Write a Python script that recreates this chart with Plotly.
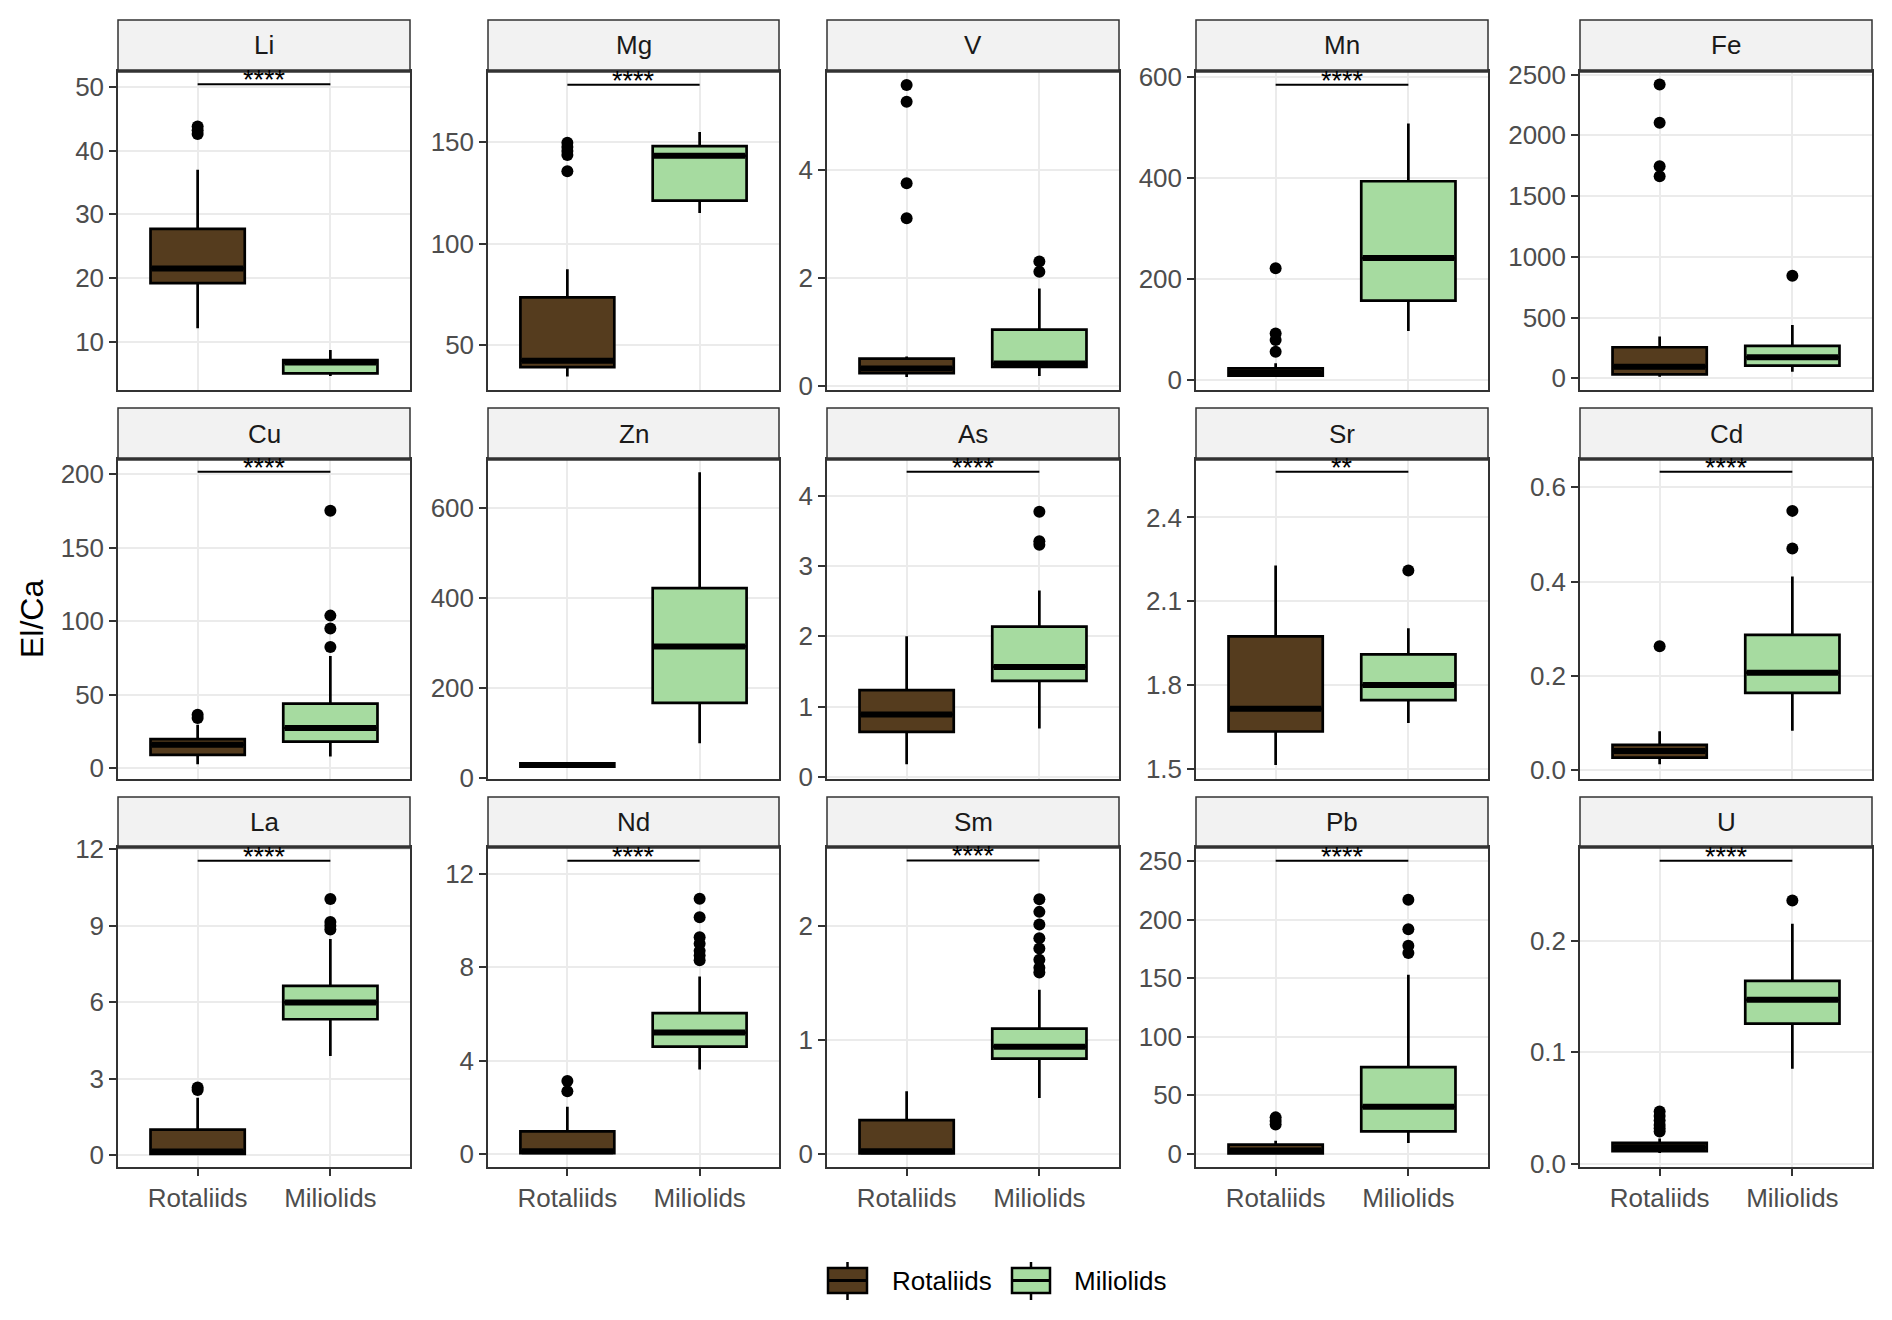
import plotly.graph_objects as go

# page is 1892x1320; the html body adds an 8px margin around the plot div
OFF = 8
W, H = 1892 - 2 * OFF, 1320 - 2 * OFF

elements = ["Li", "Mg", "V", "Mn", "Fe",
            "Cu", "Zn", "As", "Sr", "Cd",
            "La", "Nd", "Sm", "Pb", "U"]
groups = ["Rotaliids", "Miliolids"]
fills = {"Rotaliids": "#553C1E", "Miliolids": "#A6DBA0"}

# box statistics per element: [Rotaliids, Miliolids]
lower_whisker = [[12.1, 4.6], [34.6, 115.0], [0.17, 0.19], [6.6, 97], [14, 55],
                 [2.5, 7.8], [24, 78], [0.18, 0.687], [1.514, 1.664], [0.013, 0.084],
                 [0.01, 3.89], [0.0, 3.62], [0.0, 0.49], [0.0, 9.1], [0.0099, 0.0853]]
q1 = [[19.2, 5.0], [39.2, 121.1], [0.24, 0.36], [8.6, 157], [33, 105],
      [8.9, 18.0], [26, 167.7], [0.64, 1.364], [1.634, 1.746], [0.027, 0.164],
      [0.04, 5.33], [0.03, 4.6], [0.006, 0.835], [0.3, 19.1], [0.0114, 0.1257]]
median = [[21.5, 6.7], [42.4, 143.1], [0.33, 0.42], [14.5, 241], [96, 173],
          [15.8, 27.2], [29.5, 293], [0.887, 1.564], [1.715, 1.80], [0.041, 0.207],
          [0.14, 5.99], [0.11, 5.2], [0.023, 0.94], [2.6, 40], [0.015, 0.147]]
q3 = [[27.7, 7.1], [73.5, 147.9], [0.51, 1.05], [23, 393], [256, 267],
      [19.6, 43.8], [33, 422.6], [1.235, 2.136], [1.974, 1.910], [0.054, 0.287],
      [1.0, 6.64], [0.97, 6.03], [0.296, 1.098], [7.7, 74], [0.0189, 0.164]]
upper_whisker = [[37.0, 8.7], [87.4, 154.8], [0.55, 1.81], [33, 507], [344, 440],
                 [29.5, 76.3], [36, 680], [2.0, 2.65], [2.228, 2.003], [0.083, 0.411],
                 [2.25, 8.48], [2.02, 7.6], [0.55, 1.438], [11.1, 152.9], [0.0228, 0.215]]

outliers_rotaliids = [
    [43.8, 43.2, 42.6], [149.5, 147.5, 145.5, 143.5, 135.5], [5.58, 5.27, 3.76, 3.11],
    [221, 92, 79, 56], [2418, 2104, 1746, 1664],
    [36.3, 34], [], [], [], [0.263],
    [2.65, 2.55], [3.12, 2.69], [], [31, 28, 25], [0.047, 0.043, 0.039, 0.035, 0.032, 0.029],
]
outliers_miliolids = [
    [], [], [2.31, 2.12], [], [844],
    [175, 103.7, 95, 82.4], [], [3.77, 3.35, 3.30], [2.21], [0.550, 0.470],
    [10.05, 9.15, 9.0, 8.85], [10.93, 10.14, 9.28, 9.0, 8.7, 8.5, 8.3],
    [2.23, 2.12, 2.01, 1.89, 1.80, 1.70, 1.63, 1.59], [217, 191.7, 177.7, 171.4], [0.236],
]

signif = ["****", "****", "", "****", "",
          "****", "", "****", "**", "****",
          "****", "****", "****", "****", "****"]
bracket_y = [50.4, 178, None, 584, None,
             201.6, None, 4.34, 2.563, 0.633,
             11.55, 12.56, 2.57, 250.3, 0.2716]

y_limits = [[2.4, 52.5], [28, 184.8], [-0.07, 5.84], [-19.8, 611], [-96, 2530],
            [-7.5, 210.3], [-1.5, 709.6], [-0.03, 4.52], [1.464, 2.609], [-0.0185, 0.660],
            [-0.47, 12.09], [-0.56, 13.15], [-0.114, 2.688], [-11.4, 262], [-0.0027, 0.2838]]
y_ticks = [[10, 20, 30, 40, 50], [50, 100, 150], [0, 2, 4], [0, 200, 400, 600],
           [0, 500, 1000, 1500, 2000, 2500],
           [0, 50, 100, 150, 200], [0, 200, 400, 600], [0, 1, 2, 3, 4],
           [1.5, 1.8, 2.1, 2.4], [0.0, 0.2, 0.4, 0.6],
           [0, 3, 6, 9, 12], [0, 4, 8, 12], [0, 1, 2], [0, 50, 100, 150, 200, 250],
           [0.0, 0.1, 0.2]]
y_tick_labels = [[str(v) for v in t] for t in y_ticks]
y_tick_labels[8] = ["1.5", "1.8", "2.1", "2.4"]
y_tick_labels[9] = ["0.0", "0.2", "0.4", "0.6"]
y_tick_labels[14] = ["0.0", "0.1", "0.2"]

# panel geometry in pixels of the 1892x1320 page
col_px = [(118, 410), (488, 779), (827, 1119), (1196, 1488), (1580, 1872)]
row_px = [(71, 390), (459, 779), (847, 1167)]
strip_px = [(20, 71), (408, 459), (797, 847)]

FONT = "Liberation Sans, Arial, sans-serif"
BOX_HALF = 0.355


def fx(x):
    return (x - OFF) / W


def fy(y):
    return 1 - (y - OFF) / H


fig = go.Figure()
shapes = []
annotations = []
layout = {}

for k, el in enumerate(elements):
    r, c = divmod(k, 5)
    sfx = "" if k == 0 else str(k + 1)
    xa, ya = "x" + sfx, "y" + sfx

    for j, g in enumerate(groups):
        fig.add_trace(go.Box(
            x=[g], q1=[q1[k][j]], median=[median[k][j]], q3=[q3[k][j]],
            lowerfence=[lower_whisker[k][j]], upperfence=[upper_whisker[k][j]],
            fillcolor=fills[g], line=dict(color="black", width=2.7),
            whiskerwidth=0, width=2 * BOX_HALF, boxpoints=False,
            hoverinfo="skip", showlegend=False, xaxis=xa, yaxis=ya,
        ))
        # thicker median bar as in ggplot
        shapes.append(dict(type="line", xref=xa, yref=ya,
                           x0=j - BOX_HALF + 0.01, x1=j + BOX_HALF - 0.01,
                           y0=median[k][j], y1=median[k][j],
                           line=dict(color="black", width=6)))
        outs = outliers_rotaliids[k] if j == 0 else outliers_miliolids[k]
        if outs:
            fig.add_trace(go.Scatter(
                x=[g] * len(outs), y=outs, mode="markers",
                marker=dict(color="black", size=12),
                hoverinfo="skip", showlegend=False, xaxis=xa, yaxis=ya,
            ))

    if bracket_y[k] is not None:
        shapes.append(dict(type="line", xref=xa, yref=ya, x0=0, x1=1,
                           y0=bracket_y[k], y1=bracket_y[k],
                           line=dict(color="black", width=2)))
        annotations.append(dict(text=signif[k], xref=xa, yref=ya, x=0.5, y=bracket_y[k],
                                yanchor="bottom", yshift=-13, showarrow=False,
                                font=dict(family=FONT, size=27, color="black")))

    x0, x1 = col_px[c]
    y0, y1 = row_px[r]
    s0, s1 = strip_px[r]
    bottom = r == 2
    layout["xaxis" + sfx] = dict(
        domain=[fx(x0), fx(x1)], anchor=ya, type="category", automargin=False,
        categoryorder="array", categoryarray=groups, range=[-0.6, 1.6],
        showgrid=True, gridcolor="#EBEBEB", gridwidth=2,
        showline=True, linecolor="#333333", linewidth=1.5, mirror=True,
        ticks="outside" if bottom else "", ticklen=7, tickwidth=1.5, tickcolor="#333333",
        showticklabels=bottom, tickfont=dict(family=FONT, size=26, color="#4D4D4D"),
        fixedrange=True,
    )
    layout["yaxis" + sfx] = dict(
        domain=[fy(y1), fy(y0)], anchor=xa, range=y_limits[k], automargin=False,
        tickmode="array", tickvals=y_ticks[k], ticktext=y_tick_labels[k],
        showgrid=True, gridcolor="#EBEBEB", gridwidth=2, zeroline=False,
        showline=True, linecolor="#333333", linewidth=1.5, mirror=True,
        ticks="outside", ticklen=7, tickwidth=1.5, tickcolor="#333333",
        tickfont=dict(family=FONT, size=26, color="#4D4D4D"),
        fixedrange=True,
    )

    # facet strip
    shapes.append(dict(type="rect", xref="paper", yref="paper",
                       x0=fx(x0), x1=fx(x1), y0=fy(s1), y1=fy(s0),
                       fillcolor="#F2F2F2", line=dict(color="#333333", width=1.5),
                       layer="above"))
    shapes.append(dict(type="line", xref="paper", yref="paper",
                       x0=fx(x0), x1=fx(x1), y0=fy(s1), y1=fy(s1),
                       line=dict(color="#333333", width=3.5), layer="above"))
    annotations.append(dict(text=el, xref="paper", yref="paper",
                            x=fx((x0 + x1) / 2), y=fy((s0 + s1) / 2),
                            xanchor="center", yanchor="middle", showarrow=False,
                            font=dict(family=FONT, size=26, color="#1A1A1A")))

# y axis title
annotations.append(dict(text="El/Ca", xref="paper", yref="paper", x=fx(32), y=fy(619),
                        textangle=-90, showarrow=False, xanchor="center", yanchor="middle",
                        font=dict(family=FONT, size=32, color="black")))

# legend drawn as keys below the panels
legend_keys = [(828, 867, 890), (1012, 1050, 1072)]
for (k0, k1, tx), g in zip(legend_keys, groups):
    cx = (k0 + k1) / 2
    shapes.append(dict(type="line", xref="paper", yref="paper", x0=fx(cx), x1=fx(cx),
                       y0=fy(1300), y1=fy(1262), line=dict(color="black", width=2.5)))
    shapes.append(dict(type="rect", xref="paper", yref="paper", x0=fx(k0), x1=fx(k1),
                       y0=fy(1293), y1=fy(1268), fillcolor=fills[g],
                       line=dict(color="black", width=2.5)))
    shapes.append(dict(type="line", xref="paper", yref="paper", x0=fx(k0), x1=fx(k1),
                       y0=fy(1280.5), y1=fy(1280.5), line=dict(color="black", width=3)))
    annotations.append(dict(text=g, xref="paper", yref="paper", x=fx(tx), y=fy(1281),
                            xanchor="left", yanchor="middle", showarrow=False,
                            font=dict(family=FONT, size=26, color="black")))

fig.update_layout(
    width=W, height=H, margin=dict(l=0, r=0, t=0, b=0, autoexpand=False),
    paper_bgcolor="white", plot_bgcolor="white",
    boxmode="overlay", showlegend=False,
    shapes=shapes, annotations=annotations,
    **layout,
)

fig.write_html("out.html")
